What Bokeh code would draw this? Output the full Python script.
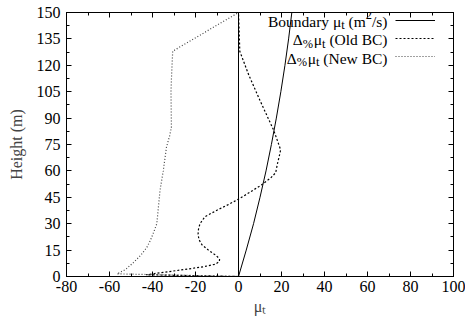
from bokeh.plotting import figure
from bokeh.models import (Range1d, LinearAxis, SingleIntervalTicker, Span, Label,
                          Legend, LegendItem, CustomJSTickFormatter)
from bokeh.embed import file_html
from bokeh.resources import INLINE

# ---------------- data ----------------
boundary_h = [0, 15, 30, 45, 60, 75, 90, 105, 120, 135, 150]
boundary_v = [0, 3.6, 7.0, 10.0, 12.8, 15.3, 17.6, 19.7, 21.6, 23.3, 24.8]

old_h = [0, 1, 2.5, 4, 5.5, 7, 8.5, 10, 12, 15, 18, 21, 24, 27, 30, 34, 38, 41,
         44, 48, 52, 56, 59, 64, 68, 72, 83, 100, 115, 128, 140, 150]
old_v = [0, -43, -34, -25, -16.5, -10.8, -8.9, -8.8, -10.5, -14, -17, -18.4, -18.8,
         -18.6, -17.9, -15.6, -9.5, -4.5, 0, 5.5, 10.6, 15, 17.3, 18.1, 18.9, 19.6,
         16.4, 10, 4.6, 0.6, 0.3, 0]

new_h = [0, 1.5, 4, 8, 12, 16.6, 20.5, 25, 30, 40, 49, 60, 73.5, 80, 85, 95, 105,
         115, 128, 150]
new_v = [0, -56.5, -52.5, -48.8, -45.5, -42.6, -41, -39.5, -38, -37.2, -36.5, -35,
         -33.5, -32, -31.2, -31.3, -31.4, -31.1, -30.6, 0]

x_ticks_interval = 20
y_ticks_interval = 15

FONT = "Liberation Serif"
FS = 16
LFS = 15.5

W, H = 465, 323
FL, FR, FT, FB = 66, 453, 12, 276
X0, X1, Y0, Y1 = -80, 100, 0, 150

p = figure(width=W, height=H, output_backend="svg", toolbar_location=None,
           x_range=Range1d(X0, X1), y_range=Range1d(Y0, Y1),
           min_border_left=FL, min_border_right=W - FR,
           min_border_top=FT, min_border_bottom=H - FB)
p.xgrid.visible = False
p.ygrid.visible = False
p.outline_line_color = "black"
p.outline_line_width = 1
p.background_fill_color = "white"
p.border_fill_color = "white"

fmt = CustomJSTickFormatter(code="return tick.toFixed(0);")


def style_axis(ax, labels=True):
    ax.axis_line_color = "black"
    ax.major_tick_in = 5
    ax.major_tick_out = 0
    ax.minor_tick_in = 3
    ax.minor_tick_out = 0
    ax.major_tick_line_color = "black"
    ax.minor_tick_line_color = "black"
    ax.major_label_text_font = FONT
    ax.major_label_text_font_size = f"{FS}px"
    ax.major_label_text_color = "black"
    ax.formatter = fmt
    if not labels:
        ax.major_label_text_alpha = 0
        ax.major_label_text_font_size = "1px"
        ax.major_label_standoff = 0


xt = SingleIntervalTicker(interval=x_ticks_interval, num_minor_ticks=2)
yt = SingleIntervalTicker(interval=y_ticks_interval, num_minor_ticks=2)

p.xaxis.ticker = xt
p.yaxis.ticker = yt
style_axis(p.xaxis[0])
style_axis(p.yaxis[0])
p.xaxis.major_label_standoff = 4
p.yaxis.major_label_standoff = 6
p.yaxis.axis_label = "Height (m)"
p.yaxis.axis_label_text_font = FONT
p.yaxis.axis_label_text_font_size = f"{FS}px"
p.yaxis.axis_label_text_font_style = "normal"
p.yaxis.axis_label_standoff = 9

p.xaxis.axis_label = "μₜ"
p.xaxis.axis_label_text_font = FONT
p.xaxis.axis_label_text_font_size = f"{FS}px"
p.xaxis.axis_label_text_font_style = "normal"
p.xaxis.axis_label_standoff = 3

top = LinearAxis(ticker=SingleIntervalTicker(interval=x_ticks_interval, num_minor_ticks=2))
style_axis(top, labels=False)
p.add_layout(top, "above")
right = LinearAxis(ticker=SingleIntervalTicker(interval=y_ticks_interval, num_minor_ticks=2))
style_axis(right, labels=False)
p.add_layout(right, "right")

p.add_layout(Span(location=0, dimension="height", line_color="black", line_width=1))

r_b = p.line(boundary_v, boundary_h, line_color="black", line_width=1)
r_o = p.line(old_v, old_h, line_color="black", line_width=1.2, line_dash="2 2")
r_n = p.line(new_v, new_h, line_color="#444444", line_width=1.2, line_dash="1 2")


def px(sx, sy):
    return (X0 + (sx - FL) / (FR - FL) * (X1 - X0),
            Y0 + (FB - sy) / (FB - FT) * (Y1 - Y0))


# legend samples
ROW0, ROWSTEP = 20, 18.5
legend = Legend(items=[LegendItem(label=" ", renderers=[r_b]),
                       LegendItem(label="  ", renderers=[r_o]),
                       LegendItem(label="   ", renderers=[r_n])],
                glyph_width=40, glyph_height=int(ROWSTEP), label_height=int(ROWSTEP),
                label_width=0, label_standoff=0, label_text_font_size="1px",
                spacing=0, padding=0, margin=0,
                border_line_alpha=0, background_fill_alpha=0,
                location=(395 - FL, FB - (ROW0 - int(ROWSTEP) / 2 + 3 * int(ROWSTEP))))
p.add_layout(legend)

CW = {"B": 667, "o": 500, "u": 500, "n": 500, "d": 500, "a": 444, "r": 333, "y": 500,
      " ": 250, "μ": 576, "(": 333, ")": 333, "m": 778, "/": 278, "s": 389, "2": 500,
      "t": 278, "%": 833, "Δ": 612, "O": 722, "l": 278, "C": 667, "N": 722, "e": 444,
      "w": 722}


def tw(t, size):
    return sum(CW.get(c, 500) for c in t) * size / 1000.0


def chain(row, pieces, xr=387):
    base = ROW0 + ROWSTEP * row + 0.5
    x = xr
    for text, kind in reversed(pieces):
        size = LFS if kind in ("main", "space") else LFS * 0.8
        if kind == "space":
            x -= tw(" ", size)
            continue
        dy = {"main": 0, "sub": 4, "sup": -6}[kind]
        dx, dyd = px(x, base + dy)
        p.add_layout(Label(x=dx, y=dyd, text=text, text_align="right",
                           text_baseline="alphabetic", text_font=FONT,
                           text_font_size=f"{size:.1f}px", text_color="black"))
        x -= tw(text, size)


chain(0, [("Boundary μ", "main"), ("t", "sub"), ("", "space"), ("(m", "main"),
          ("2", "sup"), ("/s)", "main")])
chain(1, [("Δ", "main"), ("%", "sub"), ("μ", "main"), ("t", "sub"), ("", "space"),
          ("(Old BC)", "main")])
chain(2, [("Δ", "main"), ("%", "sub"), ("μ", "main"), ("t", "sub"), ("", "space"),
          ("(New BC)", "main")])

open("out.html", "w").write(file_html(p, INLINE))
